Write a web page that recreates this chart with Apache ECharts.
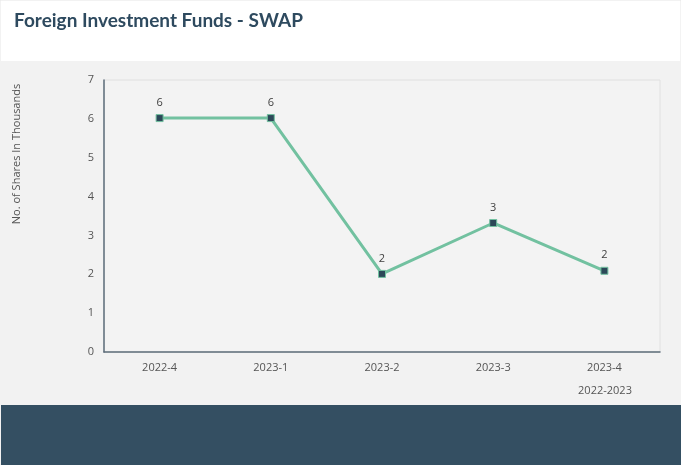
<!DOCTYPE html>
<html>
<head>
<meta charset="utf-8">
<script src="https://cdn.jsdelivr.net/npm/echarts@6/dist/echarts.min.js"></script>
<style>
html,body{margin:0;padding:0;background:#fff;}
#c{width:681px;height:465px;}
</style>
</head>
<body>
<div id="c"></div>
<script>
var categories = ['2022-4', '2023-1', '2023-2', '2023-3', '2023-4'];
var values = [6.02, 6.02, 2.01, 3.32, 2.09];
var yTicks = [0, 1, 2, 3, 4, 5, 6, 7];
var titleText = 'Foreign Investment Funds - SWAP';
var yName = 'No. of Shares In Thousands';
var xName = '2022-2023';

var chart = echarts.init(document.getElementById('c'));
chart.setOption({
  backgroundColor: '#ffffff',
  animation: false,
  textStyle: { fontFamily: 'Lato, "Open Sans", sans-serif' },
  title: {
    text: titleText, left: 9, top: 6,
    textStyle: { fontSize: 19, fontWeight: 'bold', color: '#2e4a5f', fontFamily: 'Lato, sans-serif' }
  },
  graphic: [
    { type: 'rect', z: -10, silent: true, shape: { x: 1, y: 61, width: 680, height: 344 }, style: { fill: '#f2f2f2' } },
    { type: 'rect', z: -10, silent: true, shape: { x: 1, y: 405, width: 680, height: 60 }, style: { fill: '#344f62' } },
    { type: 'rect', z: -11, silent: true, shape: { x: 0, y: 0, width: 681, height: 465 }, style: { fill: '#fff', stroke: '#e6e6e6', lineWidth: 1 } },
    { type: 'text', silent: true, x: 17, y: 154, rotation: Math.PI / 2,
      style: { text: yName, fill: '#555', fontSize: 11, fontFamily: '"Open Sans", sans-serif', align: 'center', verticalAlign: 'middle' } },
    { type: 'text', silent: true, x: 605, y: 391,
      style: { text: xName, fill: '#555', fontSize: 11, fontFamily: '"Open Sans", sans-serif', align: 'center', verticalAlign: 'middle' } }
  ],
  grid: {
    left: 104, right: 21, top: 80, bottom: 113,
    show: true, backgroundColor: '#f3f3f3', borderColor: '#e0e0e0', borderWidth: 1
  },
  xAxis: {
    type: 'category', data: categories, boundaryGap: true,
    axisLine: { lineStyle: { color: '#5d6d7a', width: 1.5 } },
    axisTick: { show: false },
    axisLabel: { color: '#555', fontSize: 11, margin: 10, fontFamily: '"Open Sans", sans-serif' },
    splitLine: { show: false }
  },
  yAxis: {
    type: 'value', min: yTicks[0], max: yTicks[yTicks.length - 1], interval: 1,
    axisLine: { show: true, lineStyle: { color: '#5d6d7a', width: 1.5 } },
    axisTick: { show: false },
    axisLabel: { color: '#555', fontSize: 11, margin: 10, fontFamily: '"Open Sans", sans-serif' },
    splitLine: { show: false }
  },
  series: [{
    type: 'line', data: values,
    symbol: 'rect', symbolSize: 7,
    lineStyle: { color: '#72c1a0', width: 3 },
    itemStyle: { color: '#2c4858', borderColor: '#72c1a0', borderWidth: 1 },
    label: {
      show: true, position: 'top', distance: 6, color: '#404040', fontSize: 11,
      fontFamily: '"Open Sans", sans-serif',
      formatter: function (p) { return Math.round(p.value); }
    }
  }]
});
</script>
</body>
</html>
